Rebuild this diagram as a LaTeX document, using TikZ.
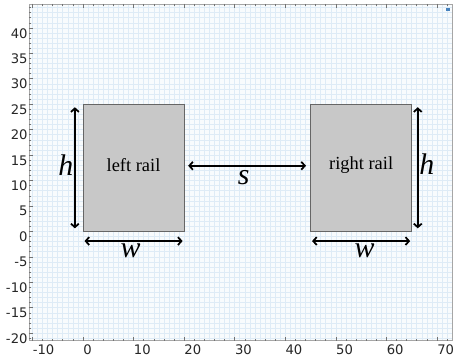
\documentclass[tikz,border=0pt]{standalone}
\usepackage{fontspec}
\setmainfont{Liberation Serif}
\newfontfamily\tickfont{DejaVu Sans}
\usetikzlibrary{arrows.meta}

\definecolor{plotbg}{RGB}{248,251,253}
\definecolor{gridblue}{RGB}{222,235,246}
\definecolor{railgray}{RGB}{200,200,200}
\definecolor{iconblue}{RGB}{70,130,190}

\tikzset{
  gridline/.style={draw=gridblue, line width=0.3pt},
  axisframe/.style={draw=gray!70, line width=0.4pt},
  tickmark/.style={draw=gray!90!black, line width=0.3pt},
  xlab/.style={anchor=north west, inner sep=0pt, text=black!85},
  ylab/.style={anchor=north east, inner sep=0pt, text=black!85},
  rail/.style={fill=railgray, draw=gray!80!black, line width=0.4pt},
  railtext/.style={font=\fontsize{10.5}{12}\selectfont},
  dimarrow/.style={{Straight Barb[length=2pt,width=4.5pt]}-{Straight Barb[length=2pt,width=4.5pt]}, line width=1pt},
  dimlabel/.style={inner sep=0pt, font=\fontsize{17}{18}\selectfont\itshape}
}

\begin{document}
\begin{tikzpicture}[x=0.1012cm, y=0.1018cm, font=\tickfont\fontsize{7.5}{8}\selectfont]
  \useasboundingbox (-16.41,-25.25) rectangle (73.17,45.48);

  % plot area with grid
  \fill[plotbg] (-10.7,-21.5) rectangle (73,44.7);
  \foreach \x in {-10,...,72}
    \draw[gridline] (\x,-21.5) -- (\x,44.7);
  \foreach \y in {-21,...,44}
    \draw[gridline] (-10.7,\y) -- (73,\y);
  \draw[axisframe] (-10.7,-21.5) rectangle (73,44.7);
  \fill[iconblue] (71.8,43.3) rectangle (72.6,43.9);

  % ticks and tick labels
  \foreach \x in {-10,-8,...,72} {
    \draw[tickmark] (\x,-21.5) -- ++(0,0.35);
    \draw[tickmark] (\x,44.7) -- ++(0,-0.35);
  }
  \foreach \x in {-10,0,...,70} {
    \draw[tickmark] (\x,-21.5) -- ++(0,0.8);
    \draw[tickmark] (\x,44.7) -- ++(0,-0.8);
    \node[xlab] (xl\x) at (\x,-22.3) {\x};
  }
  \foreach \y in {-21,...,44}
    \draw[tickmark] (-10.7,\y) -- ++(0.35,0);
  \foreach \y in {-20,-15,...,40} {
    \draw[tickmark] (-10.7,\y) -- ++(0.8,0);
    \node[ylab] (yl\y) at (-10.9,\y) {\y};
  }

  % rails
  \draw[rail] (0,0) rectangle (20,25);
  \node[railtext] (lefttext) at (10,13) {left rail};
  \draw[rail] (45,0) rectangle (65,25);
  \node[railtext] (righttext) at (55,13) {right rail};

  % dimensions
  \coordinate (hlb) at (-1.6,0.6);
  \coordinate (hlt) at (-1.6,24.4);
  \coordinate (hrb) at (66.2,0.6);
  \coordinate (hrt) at (66.2,24.4);
  \coordinate (wll) at (0.3,-1.9);
  \coordinate (wlr) at (19.7,-1.9);
  \coordinate (wrl) at (45.3,-1.9);
  \coordinate (wrr) at (64.7,-1.9);
  \coordinate (sl) at (20.8,12.9);
  \coordinate (sr) at (44.1,12.9);
  \draw[dimarrow] (hlb) -- (hlt);
  \draw[dimarrow] (hrb) -- (hrt);
  \draw[dimarrow] (wll) -- (wlr);
  \draw[dimarrow] (wrl) -- (wrr);
  \draw[dimarrow] (sl) -- (sr);
  \node[dimlabel] (hleft) at (-3.4,13.0) {h};
  \node[dimlabel] (hright) at (68.0,13.2) {h};
  \node[dimlabel] (wleft) at (9.4,-3.9) {w};
  \node[dimlabel] (wright) at (55.7,-3.9) {w};
  \node[dimlabel] (sgap) at (31.8,10.5) {s};
\end{tikzpicture}
\end{document}
